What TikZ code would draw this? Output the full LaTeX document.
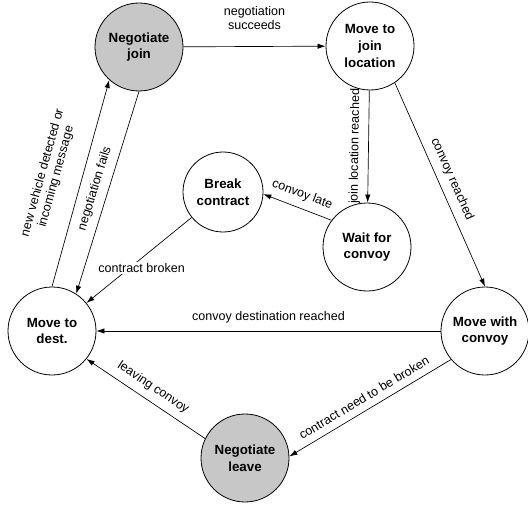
\documentclass[tikz,border=0pt]{standalone}
\usepackage{fontspec}
\setmainfont{Liberation Sans}
\usetikzlibrary{arrows.meta}
\begin{document}
\begin{tikzpicture}[x=0.75pt,y=-0.75pt,
    state/.style={circle,draw,line width=0.6pt,minimum size=66pt,inner sep=0pt,
      align=center,font=\fontsize{10}{12.5}\selectfont\bfseries},
    shaded/.style={state,fill=black!22},
    trans/.style={-{Latex[length=6pt,width=4pt]},line width=0.5pt},
    lbl/.style={font=\fontsize{9.4}{10.5}\selectfont,align=center}]
\useasboundingbox (0,0) rectangle (528,506);

% states
\node[shaded] (join) at (139,47) {Negotiate\\join};
\node[state] (mtj) at (370,46) {Move to\\join\\location};
\node[state,minimum size=60pt] (brk) at (223,192) {Break\\contract};
\node[state] (wait) at (367,247) {Wait for\\convoy};
\node[state] (dest) at (52,331) {Move to\\dest.};
\node[state] (mwc) at (485,331) {Move with\\convoy};
\node[shaded] (leave) at (245,458) {Negotiate\\leave};

% transitions
\draw[trans] (join) -- node[lbl,above=9pt]{negotiation\\succeeds} (mtj);
\draw[trans] (dest.90) -- node[lbl,sloped,above=11pt]{new vehicle detected or\\incoming message} (join.228);
\draw[trans] (join.270) -- node[lbl,sloped,above=2pt]{negotiation fails} (dest.57);
\draw[trans] (brk) -- node[lbl,fill=white,pos=0.59,xshift=9pt,inner sep=1pt]{contract broken} (dest);
\draw[trans] (mtj) -- node[lbl,sloped,above=2pt]{join location reached} (wait);
\draw[trans] (wait.143) -- node[lbl,sloped,above=2pt]{convoy late} (brk.-3);
\draw[trans] (mtj.-56) -- node[lbl,sloped,above=2pt]{convoy reached} (mwc.90);
\draw[trans] (mwc) -- node[lbl,above=2pt]{convoy destination reached} (dest);
\draw[trans] (mwc.220) -- node[lbl,sloped,above=2pt]{contract need to be broken} (leave.2);
\draw[trans] (leave.154) -- node[lbl,sloped,above=2pt]{leaving convoy} (dest.-39);
\end{tikzpicture}
\end{document}
